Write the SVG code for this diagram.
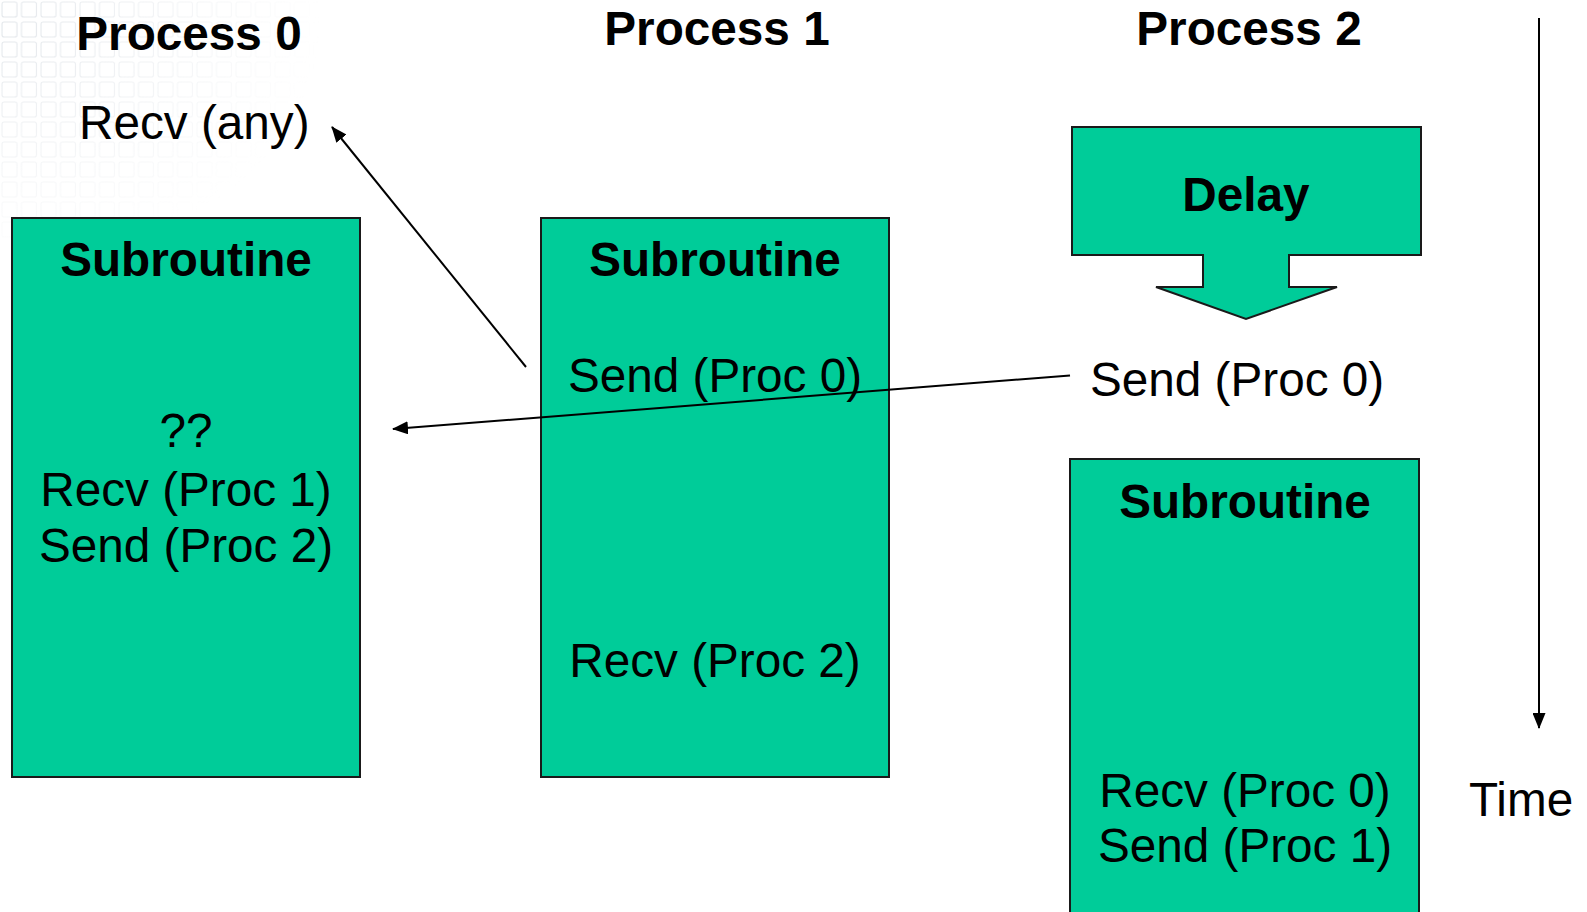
<svg xmlns="http://www.w3.org/2000/svg" width="1587" height="912" viewBox="0 0 1587 912">
  <style>
    .box { fill: #00CC99; stroke: #1a1a1a; stroke-width: 2; }
    .t { font-family: "Liberation Sans", Arial, Helvetica, sans-serif; font-size: 47.7px; fill: #000; }
    .b { font-weight: bold; }
    .mid { text-anchor: middle; }
    .edge { stroke: #000; stroke-width: 2; fill: none; marker-end: url(#head); }
  </style>
  <defs>
    <marker id="head" viewBox="0 0 16 13" refX="15" refY="6.5" markerWidth="16" markerHeight="13" markerUnits="userSpaceOnUse" orient="auto">
      <path d="M0,0 L16,6.5 L0,13 Z" fill="#000"/>
    </marker>
    <pattern id="grid" width="19.5" height="20" patternUnits="userSpaceOnUse">
      <rect x="2" y="2" width="15" height="15" rx="2" fill="none" stroke="#dfe3e8" stroke-width="1.1"/>
    </pattern>
    <radialGradient id="fade" cx="0" cy="0.1" r="1" gradientUnits="objectBoundingBox">
      <stop offset="0" stop-color="#fff" stop-opacity="0.9"/>
      <stop offset="0.35" stop-color="#fff" stop-opacity="0.55"/>
      <stop offset="1" stop-color="#fff" stop-opacity="0"/>
    </radialGradient>
    <mask id="gridMask">
      <rect x="0" y="0" width="320" height="240" fill="url(#fade)"/>
    </mask>
  </defs>

  <!-- page background with faint grid corner -->
  <rect width="1587" height="912" fill="#fff"/>
  <rect x="0" y="0" width="320" height="240" fill="url(#grid)" mask="url(#gridMask)"/>

  <!-- column headings -->
  <g id="head-p0"><text class="t b mid" x="189" y="50">Process 0</text></g>
  <g id="head-p1"><text class="t b mid" x="717" y="45">Process 1</text></g>
  <g id="head-p2"><text class="t b mid" x="1249" y="45">Process 2</text></g>

  <!-- Process 0 -->
  <g id="recv-any"><text class="t" x="79" y="139">Recv (any)</text></g>
  <g id="sub0">
    <rect class="box" x="12" y="218" width="348" height="559"/>
    <text class="t b mid" x="186" y="276">Subroutine</text>
    <text class="t mid" x="186" y="447">??</text>
    <text class="t mid" x="186" y="506">Recv (Proc 1)</text>
    <text class="t mid" x="186" y="562">Send (Proc 2)</text>
  </g>

  <!-- Process 1 -->
  <g id="sub1">
    <rect class="box" x="541" y="218" width="348" height="559"/>
    <text class="t b mid" x="715" y="276">Subroutine</text>
    <text class="t mid" x="715" y="392">Send (Proc 0)</text>
    <text class="t mid" x="715" y="677">Recv (Proc 2)</text>
  </g>

  <!-- Process 2 -->
  <g id="delay">
    <path class="box" d="M1072,127 H1421 V255 H1289 V287 H1337 L1246,319 L1156,287 H1203 V255 H1072 Z"/>
    <text class="t b mid" x="1246" y="211">Delay</text>
  </g>
  <g id="send-p2"><text class="t" x="1090" y="396">Send (Proc 0)</text></g>
  <g id="sub2">
    <rect class="box" x="1070" y="459" width="349" height="470"/>
    <text class="t b mid" x="1245" y="518">Subroutine</text>
    <text class="t mid" x="1245" y="807">Recv (Proc 0)</text>
    <text class="t mid" x="1245" y="862">Send (Proc 1)</text>
  </g>

  <!-- time axis -->
  <g id="time">
    <line x1="1539" y1="18" x2="1539" y2="728" class="edge"/>
    <text class="t" x="1469" y="816">Time</text>
  </g>

  <!-- messages -->
  <g id="connectors">
    <line class="edge" x1="526" y1="367" x2="332" y2="127"/>
    <line class="edge" x1="1070" y1="375.5" x2="393" y2="429"/>
  </g>
</svg>
